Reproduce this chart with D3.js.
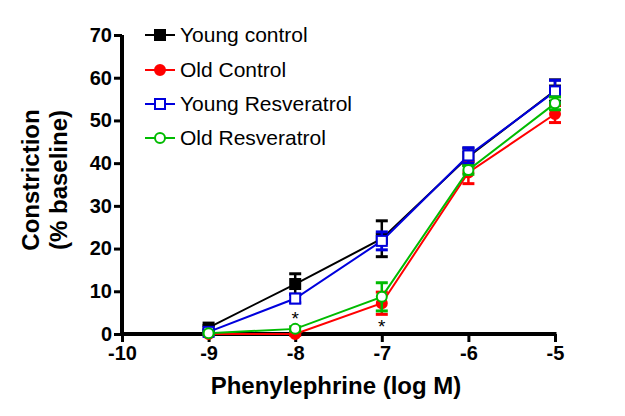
<!DOCTYPE html>
<html><head><meta charset="utf-8">
<script src="https://cdn.jsdelivr.net/npm/d3@7"></script>
<style>body{margin:0;background:#fff}svg{display:block}</style>
</head><body><svg id="c" width="625" height="416"></svg>
<script>
const doses = [-9, -8, -7, -6, -5];
const seriesNames = ["Young control", "Old Control", "Young Resveratrol", "Old Resveratrol"];
const seriesColors = ["#000000", "#ff0000", "#0000dd", "#00bb00"];
const seriesShapes = ["filledSquare", "filledCircle", "openSquare", "openCircle"];
const youngControl = [1.5, 11.7, 22.3, 41.5, 57.0];
const youngControlErr = [0.5, 2.4, 4.2, 2.0, 2.5];
const oldControl = [0.0, 0.0, 7.2, 37.8, 51.5];
const oldControlErr = [0.3, 0.3, 2.6, 2.6, 2.0];
const youngResv = [0.5, 8.3, 21.8, 41.8, 56.8];
const youngResvErr = [0.3, 1.0, 2.1, 1.8, 2.6];
const oldResv = [0.2, 1.2, 8.7, 38.4, 54.0];
const oldResvErr = [0.3, 0.5, 3.3, 1.0, 1.5];
const xTicks = [-10, -9, -8, -7, -6, -5];
const yTicks = [0, 10, 20, 30, 40, 50, 60, 70];
const asteriskX = [-8, -7];
const asteriskY = [4.3, 2.4];

const values = [youngControl, oldControl, youngResv, oldResv];
const errors = [youngControlErr, oldControlErr, youngResvErr, oldResvErr];

const svg = d3.select("#c");
const x = d3.scaleLinear().domain([-10, -5]).range([122, 555]);
const y = d3.scaleLinear().domain([0, 70]).range([334, 35]);
const font = "Arial, 'Liberation Sans', sans-serif";
const fmt = d => String(d); // plain hyphen-minus

// axes
const xAxis = svg.append("g").attr("transform", `translate(0,${y(0)})`)
  .call(d3.axisBottom(x).tickValues(xTicks).tickSize(8).tickPadding(4).tickFormat(fmt));
const yAxis = svg.append("g").attr("transform", `translate(${x(-10)},0)`)
  .call(d3.axisLeft(y).tickValues(yTicks).tickSize(8).tickPadding(2).tickFormat(fmt));
[xAxis, yAxis].forEach(a => {
  a.select(".domain").attr("stroke", "#000").attr("stroke-width", 4);
  a.selectAll(".tick line").attr("stroke", "#000").attr("stroke-width", 3);
  a.selectAll(".tick text").attr("fill", "#000").attr("font-family", font)
    .attr("font-weight", "bold").attr("font-size", 20);
});
xAxis.select(".domain").attr("d", `M${x(-10)-2},0H${x(-5)+1.5}`);
yAxis.select(".domain").attr("d", `M0,${y(70)}V${y(0)+2}`);

// axis titles
svg.append("text").attr("x", 336).attr("y", 394).attr("text-anchor", "middle")
  .attr("font-family", font).attr("font-weight", "bold").attr("font-size", 24)
  .text("Phenylephrine (log M)");
const yt = svg.append("text").attr("transform", "translate(39,180) rotate(-90)")
  .attr("text-anchor", "middle").attr("font-family", font).attr("font-weight", "bold").attr("font-size", 24);
yt.append("tspan").attr("x", 0).attr("dy", 0).text("Constriction");
yt.append("tspan").attr("x", 0).attr("dy", 28).text("(% baseline)");

function marker(g, shape, color, cx, cy) {
  if (shape.endsWith("Square")) {
    const open = shape === "openSquare";
    g.append("rect").attr("x", cx - 5).attr("y", cy - 5).attr("width", 10).attr("height", 10)
      .attr("fill", open ? "#fff" : color).attr("stroke", color).attr("stroke-width", 2);
  } else {
    const open = shape === "openCircle";
    g.append("circle").attr("cx", cx).attr("cy", cy).attr("r", 5)
      .attr("fill", open ? "#fff" : color).attr("stroke", color).attr("stroke-width", 2);
  }
}

const line = d3.line().x((d, i) => x(doses[i])).y(d => y(d));
values.forEach((vals, si) => {
  const g = svg.append("g");
  const col = seriesColors[si];
  vals.forEach((v, i) => {
    const e = errors[si][i];
    const cx = x(doses[i]);
    g.append("line").attr("x1", cx).attr("x2", cx).attr("y1", y(v - e)).attr("y2", y(v + e))
      .attr("stroke", col).attr("stroke-width", 2.5);
    [v - e, v + e].forEach(w => {
      g.append("line").attr("x1", cx - 6).attr("x2", cx + 6).attr("y1", y(w)).attr("y2", y(w))
        .attr("stroke", col).attr("stroke-width", 3);
    });
  });
  g.append("path").attr("d", line(vals)).attr("fill", "none").attr("stroke", col).attr("stroke-width", 2);
  vals.forEach((v, i) => marker(g, seriesShapes[si], col, x(doses[i]), y(v)));
});

// asterisks
asteriskX.forEach((a, i) => {
  svg.append("text").attr("x", x(a)).attr("y", y(asteriskY[i]) + 9).attr("text-anchor", "middle")
    .attr("font-family", font).attr("font-size", 19).attr("fill", "#000").text("*");
});

// legend
const legY = [35, 70, 104, 138];
seriesNames.forEach((n, i) => {
  const g = svg.append("g");
  g.append("line").attr("x1", 145).attr("x2", 175).attr("y1", legY[i]).attr("y2", legY[i])
    .attr("stroke", seriesColors[i]).attr("stroke-width", 2);
  marker(g, seriesShapes[i], seriesColors[i], 160, legY[i]);
  g.append("text").attr("x", 180).attr("y", legY[i]).attr("dy", "0.35em")
    .attr("font-family", font).attr("font-size", 21).attr("fill", "#000").text(n);
});
</script></body></html>
